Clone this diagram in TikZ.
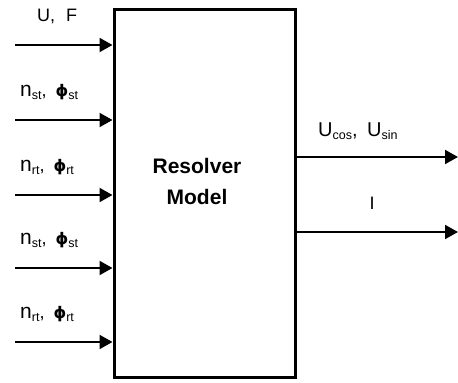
\documentclass[tikz,border=0pt]{standalone}
\usepackage{fontspec}
\setmainfont{Liberation Sans}
\newfontfamily\phifont{DejaVu Sans}
\usetikzlibrary{arrows.meta}
\newcommand{\fluxsym}{{\phifont\bfseries\fontsize{16}{18}\selectfont ϕ}}
\newcommand{\speedsym}{{\fontsize{21}{21}\selectfont n}}
\newcommand{\lowidx}[1]{\raisebox{-2.5pt}{\fontsize{12.5}{13}\selectfont #1}}
\begin{document}
\begin{tikzpicture}[x=1pt, y=1pt,
  block/.style={draw, line width=3pt, minimum width=181pt, minimum height=368pt, inner sep=0pt},
  signal/.style={line width=2pt, -{Triangle[length=13pt, width=14pt]}},
  siglabel/.style={font=\fontsize{18}{20}\selectfont, inner sep=0pt}]
  \useasboundingbox (0,0) rectangle (458,383);
  % resolver block
  \node[block] (res) at (204.5,189) {};
  \node[font=\fontsize{21}{31}\selectfont\bfseries, align=center] (title) at (197,202) {Resolver\\Model};
  % inputs
  \coordinate (in1) at (15,338);
  \coordinate (in2) at (15,263);
  \coordinate (in3) at (15,188);
  \coordinate (in4) at (15,115);
  \coordinate (in5) at (15,41);
  \draw[signal] (in1) -- (res.west |- in1);
  \draw[signal] (in2) -- (res.west |- in2);
  \draw[signal] (in3) -- (res.west |- in3);
  \draw[signal] (in4) -- (res.west |- in4);
  \draw[signal] (in5) -- (res.west |- in5);
  \node[siglabel, anchor=base west] (l1) at (37,361) {U,\hspace{6pt} F};
  \node[siglabel, anchor=base west] (l2) at (20,286) {\speedsym\lowidx{st},\hspace{4pt} \fluxsym\lowidx{st}};
  \node[siglabel, anchor=base west] (l3) at (20,211) {\speedsym\lowidx{rt},\hspace{4pt} \fluxsym\lowidx{rt}};
  \node[siglabel, anchor=base west] (l4) at (20,138) {\speedsym\lowidx{st},\hspace{4pt} \fluxsym\lowidx{st}};
  \node[siglabel, anchor=base west] (l5) at (20,64) {\speedsym\lowidx{rt},\hspace{4pt} \fluxsym\lowidx{rt}};
  % outputs
  \coordinate (out1) at (458,226);
  \coordinate (out2) at (458,151);
  \draw[signal] (res.east |- out1) -- (out1);
  \draw[signal] (res.east |- out2) -- (out2);
  \node[siglabel, font=\fontsize{20}{22}\selectfont, anchor=base west] (o1) at (318,246) {U\lowidx{cos},\hspace{4pt} U\lowidx{sin}};
  \node[siglabel, anchor=base] (o2) at (372,173) {I};
\end{tikzpicture}
\end{document}
